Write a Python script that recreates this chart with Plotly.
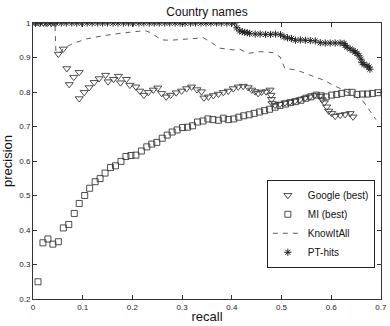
import plotly.graph_objects as go

# Google (best)
google_r = [0.005, 0.013, 0.021, 0.029, 0.037, 0.045, 0.051, 0.061, 0.068, 0.073,
            0.082, 0.093, 0.093, 0.103, 0.113, 0.123, 0.133, 0.146, 0.151, 0.162,
            0.172, 0.176, 0.188, 0.195, 0.207, 0.215, 0.223, 0.232, 0.242, 0.251,
            0.259, 0.268, 0.277, 0.288, 0.299, 0.309, 0.319, 0.33, 0.339, 0.344,
            0.353, 0.363, 0.373, 0.383, 0.393, 0.403, 0.413, 0.423, 0.433, 0.44,
            0.447, 0.453, 0.46, 0.469, 0.477, 0.479, 0.48, 0.481, 0.487, 0.497,
            0.507, 0.517, 0.527, 0.537, 0.547, 0.557, 0.567, 0.577, 0.582, 0.586,
            0.591, 0.595, 0.601, 0.608, 0.618, 0.628, 0.638, 0.644]
google_p = [1, 1, 1, 1, 1, 1, 0.91, 0.925, 0.868, 0.822,
            0.843, 0.857, 0.781, 0.799, 0.813, 0.828, 0.839, 0.849, 0.83, 0.837,
            0.846, 0.827, 0.837, 0.82, 0.815, 0.803, 0.791, 0.799, 0.806, 0.812,
            0.796, 0.786, 0.791, 0.798, 0.803, 0.81, 0.815, 0.807, 0.801, 0.783,
            0.786, 0.79, 0.794, 0.799, 0.803, 0.81, 0.815, 0.817, 0.813, 0.806,
            0.801, 0.796, 0.8, 0.801, 0.806, 0.791, 0.779, 0.767, 0.762, 0.765,
            0.769, 0.771, 0.774, 0.778, 0.782, 0.786, 0.791, 0.788, 0.778, 0.769,
            0.757, 0.745, 0.738, 0.73, 0.733, 0.735, 0.738, 0.728]

# MI (best)
mi_r = [0.01, 0.02, 0.03, 0.04, 0.051, 0.061, 0.072, 0.083, 0.093, 0.104,
        0.114, 0.125, 0.135, 0.145, 0.156, 0.166, 0.177, 0.187, 0.197, 0.207,
        0.218, 0.229, 0.239, 0.249, 0.26, 0.27, 0.28, 0.29, 0.301, 0.311,
        0.321, 0.331, 0.342, 0.352, 0.362, 0.373, 0.383, 0.393, 0.404, 0.414,
        0.424, 0.435, 0.445, 0.456, 0.466, 0.476, 0.487, 0.497, 0.508, 0.518,
        0.528, 0.539, 0.549, 0.559, 0.57, 0.58, 0.59, 0.601, 0.611, 0.621,
        0.632, 0.642, 0.652, 0.663, 0.673, 0.683, 0.694]
mi_p = [0.25, 0.363, 0.374, 0.359, 0.366, 0.406, 0.416, 0.448, 0.477, 0.5,
        0.521, 0.54, 0.549, 0.565, 0.581, 0.586, 0.599, 0.613, 0.616, 0.617,
        0.629, 0.641, 0.649, 0.654, 0.666, 0.675, 0.684, 0.69, 0.697, 0.698,
        0.702, 0.713, 0.716, 0.722, 0.72, 0.718, 0.724, 0.72, 0.722, 0.727,
        0.731, 0.734, 0.738, 0.742, 0.746, 0.75, 0.756, 0.761, 0.765, 0.769,
        0.772, 0.776, 0.782, 0.786, 0.791, 0.789, 0.786, 0.791, 0.793, 0.796,
        0.799, 0.799, 0.793, 0.794, 0.794, 0.796, 0.798]

# KnowItAll
kia_r = [0.01, 0.044, 0.046, 0.054, 0.061, 0.081, 0.108, 0.141, 0.175, 0.202,
         0.225, 0.235, 0.259, 0.276, 0.309, 0.343, 0.356, 0.376, 0.403, 0.416,
         0.433, 0.457, 0.483, 0.497, 0.507, 0.53, 0.557, 0.584, 0.604, 0.631,
         0.665, 0.69]
kia_p = [1.0, 1.0, 0.92, 0.912, 0.926, 0.941, 0.954, 0.963, 0.97, 0.975,
         0.978, 0.973, 0.951, 0.95, 0.954, 0.957, 0.946, 0.927, 0.922, 0.924,
         0.912, 0.917, 0.914, 0.902, 0.868, 0.864, 0.849, 0.835, 0.82, 0.801,
         0.772, 0.72]

# PT-hits
pt_r = [0.005, 0.015, 0.026, 0.036, 0.046, 0.057, 0.067, 0.078, 0.088, 0.098,
        0.109, 0.119, 0.13, 0.14, 0.15, 0.161, 0.171, 0.182, 0.192, 0.202,
        0.213, 0.223, 0.234, 0.244, 0.254, 0.265, 0.275, 0.286, 0.296, 0.306,
        0.317, 0.327, 0.338, 0.348, 0.358, 0.369, 0.379, 0.39, 0.4, 0.406,
        0.41, 0.416, 0.421, 0.426, 0.431, 0.436, 0.447, 0.457, 0.468, 0.478,
        0.488, 0.498, 0.505, 0.512, 0.52, 0.528, 0.538, 0.548, 0.558, 0.568,
        0.578, 0.588, 0.598, 0.608, 0.618, 0.626, 0.628, 0.632, 0.638, 0.644,
        0.648, 0.652, 0.656, 0.66, 0.662, 0.666, 0.672, 0.676, 0.678]
pt_p = [1, 1, 1, 1, 1, 1, 1, 1, 1, 1,
        1, 1, 1, 1, 1, 1, 1, 1, 1, 1,
        1, 1, 1, 1, 1, 1, 1, 1, 1, 1,
        1, 1, 1, 1, 1, 1, 1, 1, 1, 1,
        0.986, 0.977, 0.975, 0.973, 0.972, 0.97, 0.968, 0.968, 0.967, 0.967,
        0.968, 0.966, 0.96, 0.957, 0.955, 0.95, 0.951, 0.95, 0.949, 0.948,
        0.943, 0.942, 0.942, 0.942, 0.942, 0.941, 0.935, 0.93, 0.925, 0.92,
        0.916, 0.912, 0.905, 0.895, 0.885, 0.88, 0.876, 0.872, 0.866]

x_ticks = [0, 0.1, 0.2, 0.3, 0.4, 0.5, 0.6, 0.7]
x_labels = ["0", "0.1", "0.2", "0.3", "0.4", "0.5", "0.6", "0.7"]
y_ticks = [0.2, 0.3, 0.4, 0.5, 0.6, 0.7, 0.8, 0.9, 1.0]
y_labels = ["0.2", "0.3", "0.4", "0.5", "0.6", "0.7", "0.8", "0.9", "1"]

ink = "#3a3a3a"
fig = go.Figure()

fig.add_trace(go.Scatter(
    x=google_r, y=google_p, mode="markers", name="Google (best)",
    marker=dict(symbol="triangle-down-open", size=7, color=ink, line=dict(width=0.9))))
fig.add_trace(go.Scatter(
    x=mi_r, y=mi_p, mode="markers", name="MI (best)",
    marker=dict(symbol="square-open", size=6, color=ink, line=dict(width=0.9))))
fig.add_trace(go.Scatter(
    x=kia_r, y=kia_p, mode="lines", name="KnowItAll",
    line=dict(color="#333", width=0.8, dash="5px,5px")))
fig.add_trace(go.Scatter(
    x=pt_r, y=pt_p, mode="markers", name="PT-hits",
    marker=dict(symbol="asterisk-open", size=6, color="#222", line=dict(width=1))))

axis_common = dict(
    showgrid=False, zeroline=False, showline=True, linecolor="#333", linewidth=1,
    mirror="ticks", ticks="inside", ticklen=4, tickcolor="#333",
    tickfont=dict(size=8, color="#222"), ticklabeloverflow="allow",
    automargin=False,
)

fig.update_layout(
    width=390, height=326,
    margin=dict(l=33, r=9, t=23, b=27, autoexpand=False),
    paper_bgcolor="white", plot_bgcolor="white",
    font=dict(family="Liberation Sans, Arial, sans-serif", color="#111"),
    title=dict(text="Country names", x=0.5 + (33 - 9) / 2 / 390, xanchor="center",
               y=0.965, yanchor="middle", font=dict(size=12)),
    xaxis=dict(range=[0, 0.7002], tickvals=x_ticks, ticktext=x_labels,
               title=dict(text="recall", font=dict(size=13), standoff=1),
               **axis_common),
    yaxis=dict(range=[0.2, 1.0], tickvals=y_ticks, ticktext=y_labels,
               title=dict(text="precision", font=dict(size=13), standoff=6),
               **axis_common),
    legend=dict(x=0.672, y=0.432, xanchor="left", yanchor="top",
                bgcolor="white", bordercolor="#222", borderwidth=1,
                font=dict(size=10), itemwidth=30, tracegroupgap=0),
    showlegend=True,
)

# page body has a default 8px margin; drop it so the figure fills the window
fig.write_html("out.html", config={"displayModeBar": False},
               post_script="document.body.style.margin='0';")
